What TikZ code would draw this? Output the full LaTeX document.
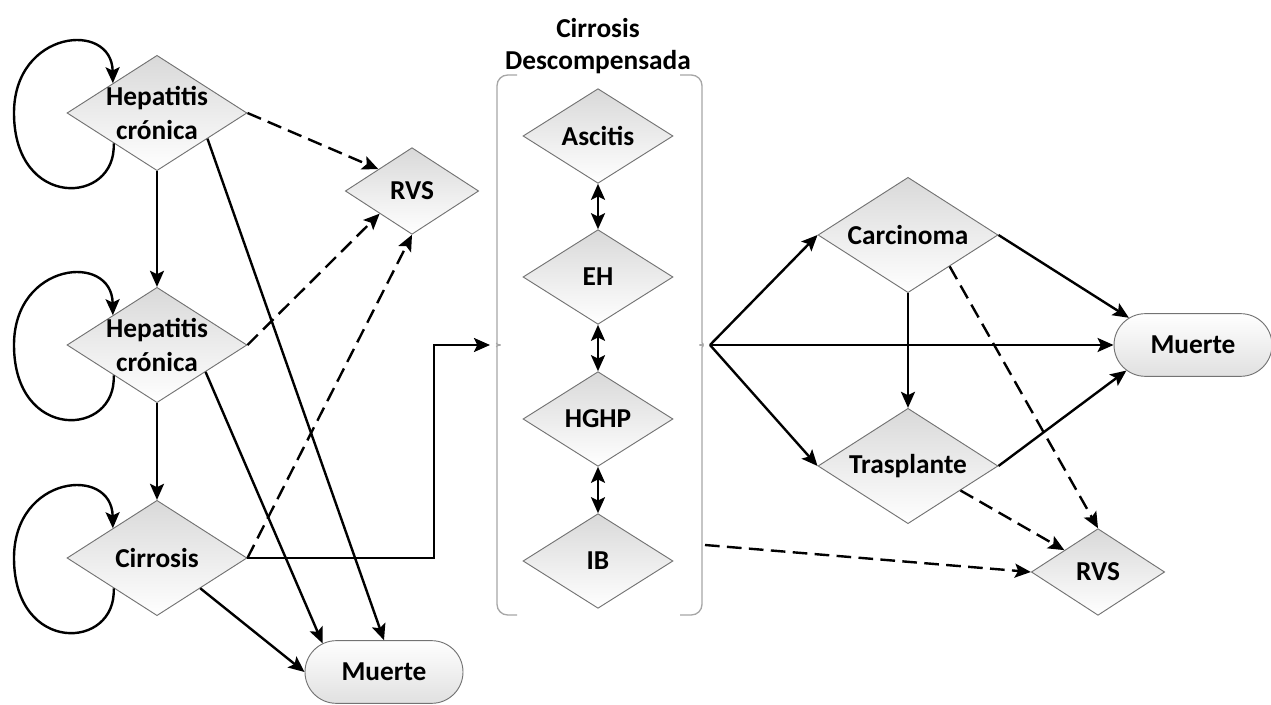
\documentclass[tikz,border=0pt]{standalone}
\usepackage{fontspec}
\setmainfont{Carlito}
\usetikzlibrary{shapes.geometric,shapes.misc,arrows.meta,calc}
\newcommand\myselfloop[1]{\draw[arr] (#1.215) .. controls +(3,62) and +(0,97) .. ($(#1)+(-143,0)$) .. controls +(0,-83) and +(-1,-63) .. (#1.146);}
\begin{document}
\begin{tikzpicture}[x=0.75pt,y=-0.75pt,
  txt/.style={font=\fontsize{20.5pt}{25pt}\selectfont\bfseries, align=center, inner sep=0pt},
  dia/.style={diamond, draw=black!55, line width=0.7pt, top color=black!15, bottom color=white, inner sep=0pt},
  bigdia/.style={dia, minimum width=135pt, minimum height=86.5pt},
  middia/.style={dia, minimum width=112.5pt, minimum height=71pt},
  smalldia/.style={dia, minimum width=100pt, minimum height=65pt},
  endbox/.style={rounded rectangle, draw=black!55, line width=0.7pt, top color=white, bottom color=black!12, minimum width=118.5pt, minimum height=47pt, inner sep=0pt, font=\fontsize{20.5pt}{25pt}\selectfont\bfseries},
  arr/.style={line width=1.8pt, -{Stealth[length=12pt,width=10.5pt,inset=2.5pt]}},
  darr/.style={line width=1.8pt, {Stealth[length=12pt,width=10.5pt,inset=2.5pt]}-{Stealth[length=12pt,width=10.5pt,inset=2.5pt]}},
  dsh/.style={arr, dash pattern=on 11pt off 5.5pt},
  brace/.style={draw=black!35, line width=1pt, rounded corners=8pt}
]
\useasboundingbox (0,0) rectangle (1271,705);

% left column
\node[bigdia, label={[txt]center:Hepatitis\\crónica}] (h1) at (157,113) {};
\node[bigdia, label={[txt]center:Hepatitis\\crónica}] (h2) at (157,345) {};
\node[bigdia, label={[txt]center:Cirrosis}] (ci) at (157,558) {};
\node[smalldia, label={[txt]center:RVS}] (rvs1) at (412,191) {};
\node[endbox] (m1) at (384,672) {Muerte};

% middle column
\node[txt, font=\fontsize{20.5pt}{24pt}\selectfont\bfseries] (title) at (598,46) {Cirrosis\\Descompensada};
\node[middia, label={[txt]center:Ascitis}] (asc) at (598,136) {};
\node[middia, label={[txt]center:EH}] (eh) at (598,277) {};
\node[middia, label={[txt]center:HGHP}] (hg) at (598,419) {};
\node[middia, label={[txt]center:IB}] (ib) at (598,561) {};
\coordinate (lb) at (490,345);
\coordinate (rb) at (710,345);
\coordinate (bend) at (434,345);
\coordinate (ibout) at (705,545);

\draw[brace] (517,75) -- (497,75) -- (497,332) .. controls (497,342) and (495,345) .. (lb) .. controls (495,345) and (497,348) .. (497,358) -- (497,615) -- (517,615);
\draw[brace] (680,75) -- (702,75) -- (702,332) .. controls (702,342) and (705,345) .. (rb) .. controls (705,345) and (702,348) .. (702,358) -- (702,615) -- (680,615);

% right column
\node[bigdia, label={[txt]center:Carcinoma}] (carc) at (908,235) {};
\node[bigdia, label={[txt]center:Trasplante}] (tr) at (908,466) {};
\node[smalldia, label={[txt]center:RVS}] (rvs2) at (1098,572) {};
\node[endbox] (m2) at (1193,345) {Muerte};

% self loops
\myselfloop{h1}
\myselfloop{h2}
\myselfloop{ci}

% left connectors
\draw[arr] (h1.south) -- (h2.north);
\draw[arr] (h2.south) -- (ci.north);
\draw[arr] (h1.-27) -- (m1.north);
\draw[arr] (h2.-29) -- (m1.155);
\draw[arr] (ci.-35) -- (m1.west);
\draw[dsh] (h1.east) -- (rvs1.147);
\draw[dsh] (h2.east) -- (rvs1.-145);
\draw[dsh] (ci.east) -- (rvs1.south);
\draw[arr] (ci.east) -| (bend) -- (lb);

% middle connectors
\draw[darr] (asc.south) -- (eh.north);
\draw[darr] (eh.south) -- (hg.north);
\draw[darr] (hg.south) -- (ib.north);

% right connectors
\draw[arr] (rb) -- (carc.west);
\draw[arr] (rb) -- (m2.west);
\draw[arr] (rb) -- (tr.west);
\draw[arr] (carc.south) -- (tr.north);
\draw[arr] (carc.east) -- (m2.157);
\draw[arr] (tr.east) -- (m2.-159);
\draw[dsh] (carc.-37) -- (rvs2.north);
\draw[dsh] (tr.-25) -- (rvs2.147);
\draw[dsh] (ibout) -- (rvs2.west);
\end{tikzpicture}
\end{document}
